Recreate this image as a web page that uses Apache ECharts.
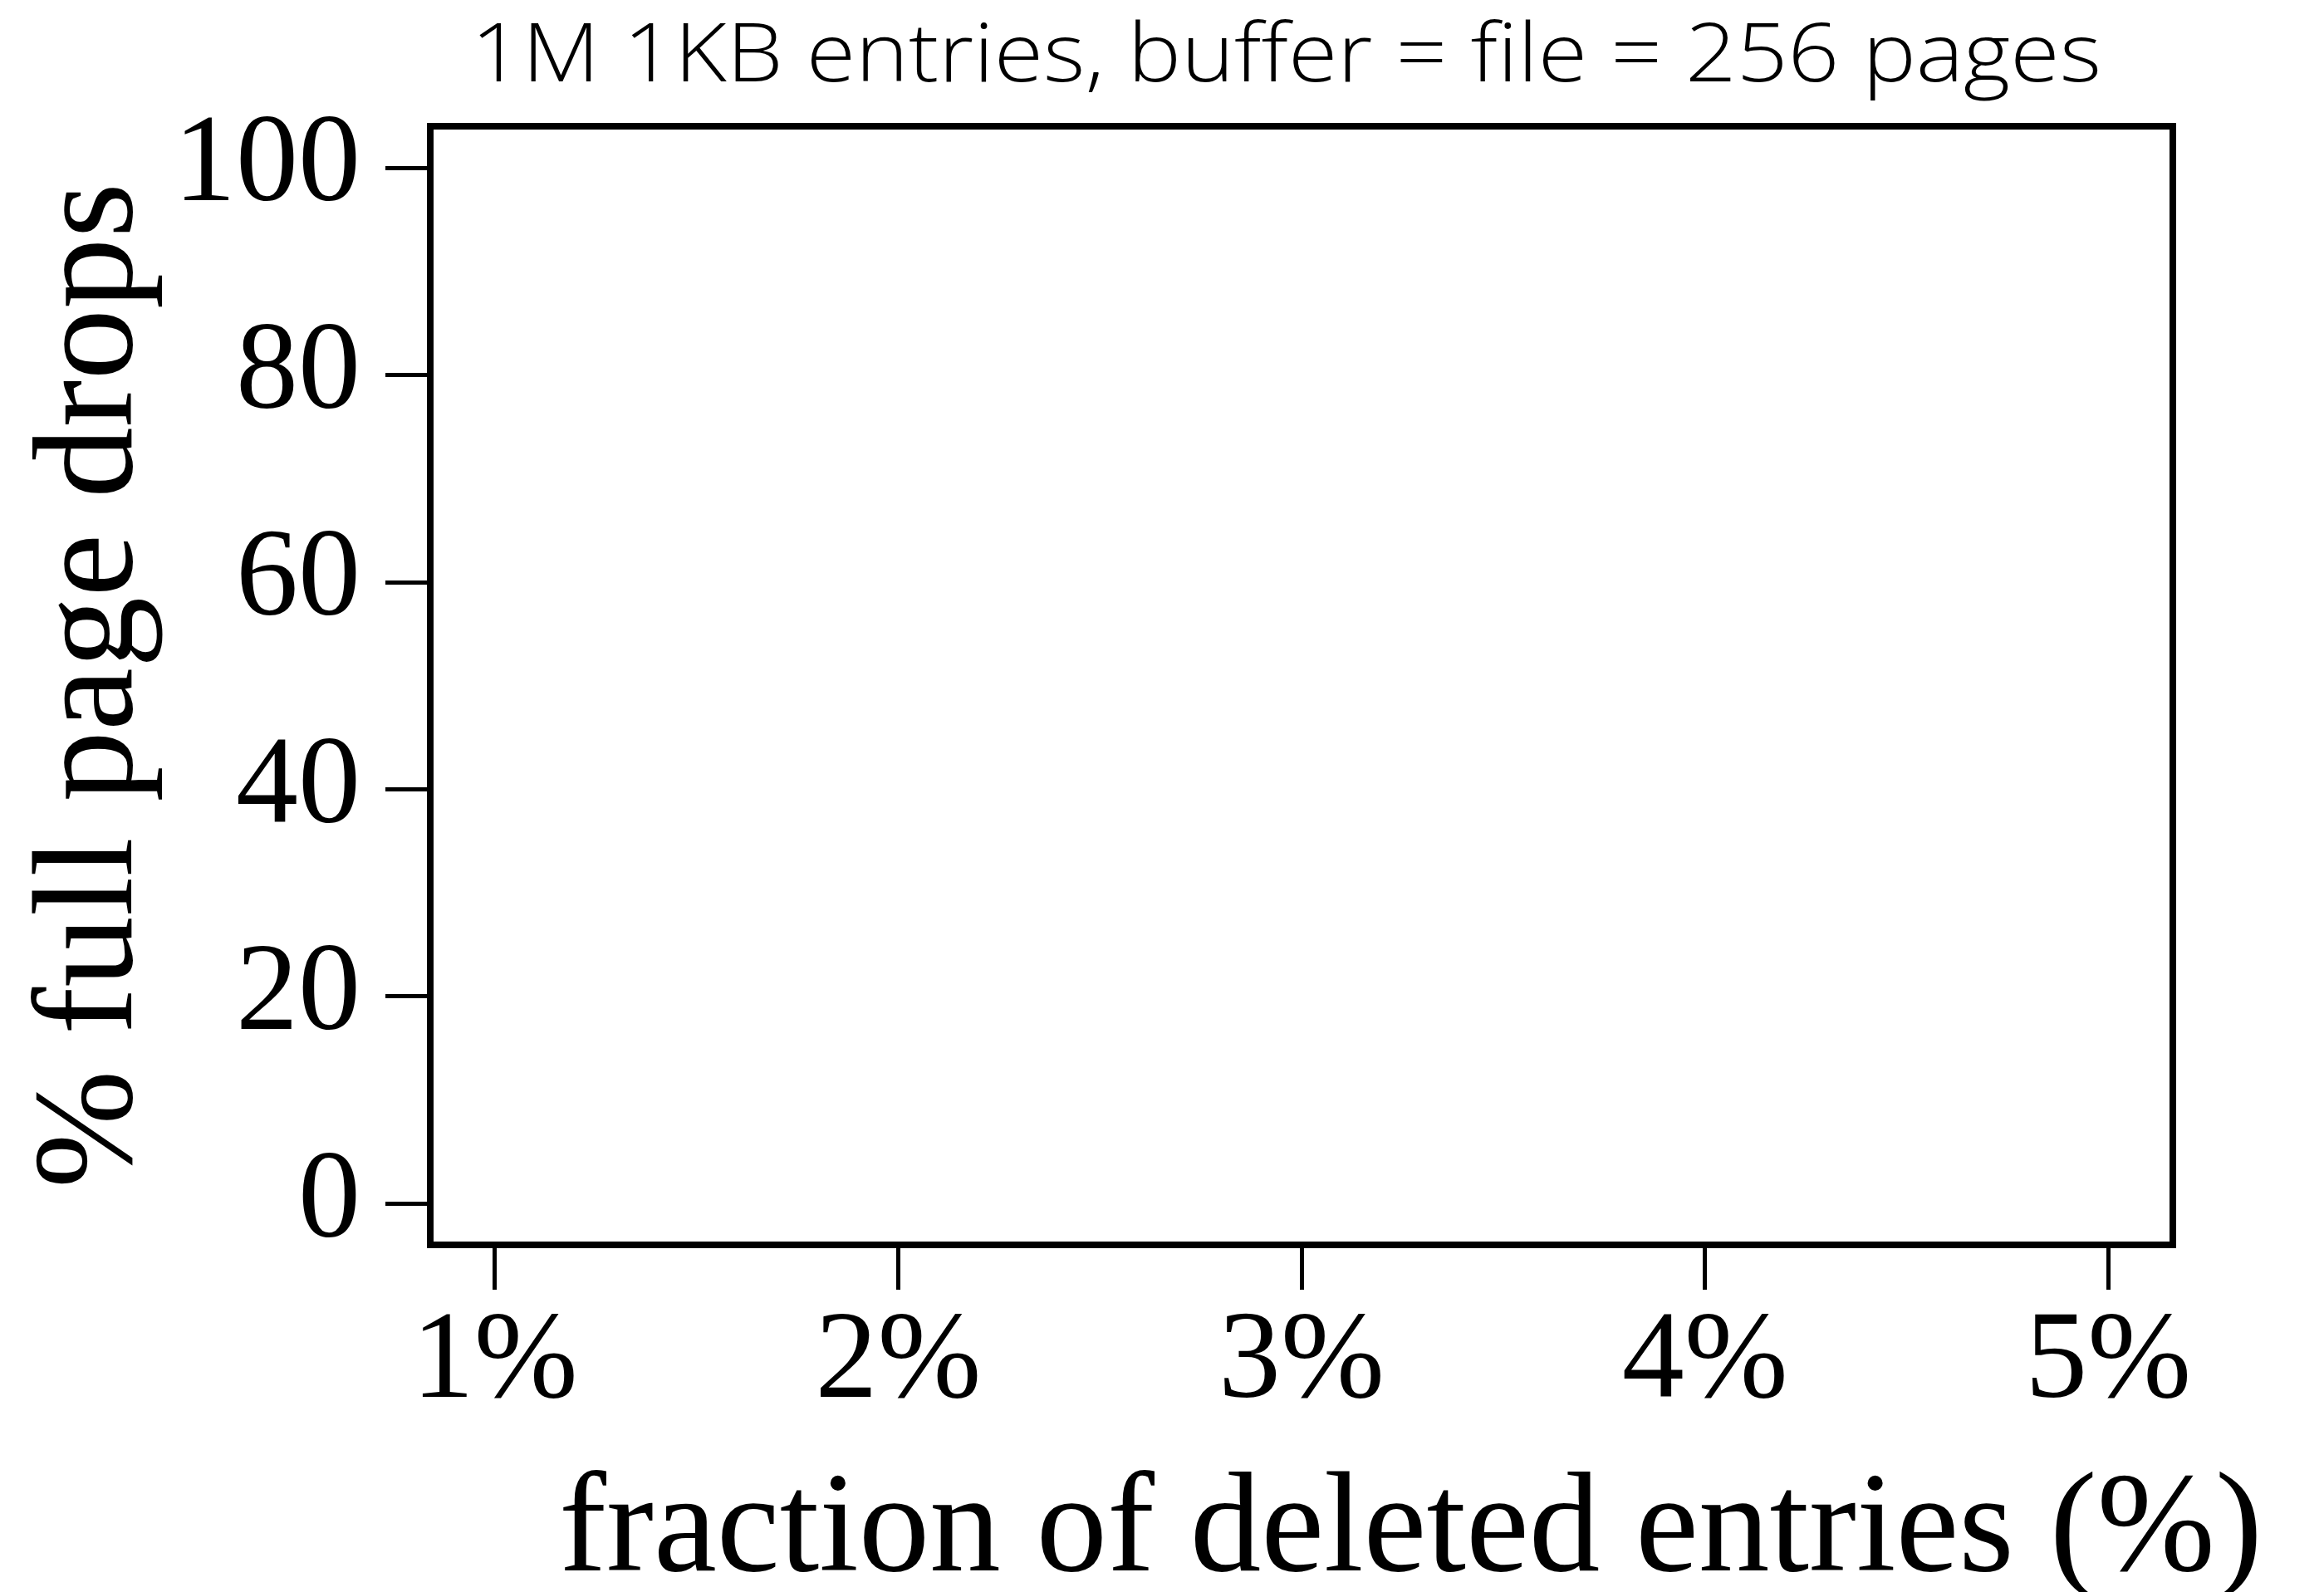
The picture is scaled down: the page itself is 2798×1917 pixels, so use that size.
<!DOCTYPE html>
<html>
<head>
<meta charset="utf-8">
<title>% full page drops</title>
<script src="https://cdn.jsdelivr.net/npm/echarts@6/dist/echarts.min.js"></script>
<style>
  html, body { margin: 0; padding: 0; background: #fff; }
  #chart { width: 2798px; height: 1917px; }
</style>
</head>
<body>
<div id="chart"></div>
<script>
// Axis ticks
const xTicks = [1, 2, 3, 4, 5];            // fraction of deleted entries (%)
const yTicks = [0, 20, 40, 60, 80, 100];   // % full page drops
// Axis extents (4% padding on each side of the tick range)
const xRange = [0.84, 5.16];
const yRange = [-4, 104];
// Measured points: none were recorded for this configuration
const dropPoints = [];

const serif = 'Liberation Serif, Times New Roman, serif';
const chartTitle = '1M 1KB entries, buffer = file = 256 pages';

const chart = echarts.init(document.getElementById('chart'), null, { renderer: 'canvas' });

chart.setOption({
  backgroundColor: '#ffffff',
  animation: false,
  title: [
    {
      text: 'fraction of deleted entries (%)',
      left: 668, top: 1756,
      textStyle: { fontFamily: serif, fontWeight: 'normal', fontSize: 171, color: '#000' }
    }
  ],
  // light, widely set heading above the plot
  graphic: [
    {
      type: 'text',
      x: 567, y: 22,
      scaleX: 1.115,
      style: {
        text: chartTitle,
        fontFamily: 'Open Sans, Liberation Sans, Helvetica, sans-serif',
        fontWeight: 300,
        fontSize: 97,
        fill: '#000',
        align: 'left',
        verticalAlign: 'top'
      }
    }
  ],
  grid: {
    left: 518, right: 182, top: 152, bottom: 418,
    show: true, borderColor: '#000', borderWidth: 8, backgroundColor: 'transparent'
  },
  xAxis: {
    type: 'value',
    min: xRange[0], max: xRange[1],
    axisLine: { show: false, onZero: false },
    splitLine: { show: false },
    axisTick: { show: true, inside: false, length: 54, customValues: xTicks, lineStyle: { color: '#000', width: 5 } },
    axisLabel: {
      show: true, customValues: xTicks, margin: 69,
      formatter: v => v + '%',
      fontFamily: serif, fontSize: 150, color: '#000'
    }
  },
  yAxis: {
    type: 'value',
    min: yRange[0], max: yRange[1],
    name: '% full page drops',
    nameLocation: 'middle',
    nameGap: 313,
    nameTextStyle: { fontFamily: serif, fontSize: 171, color: '#000' },
    axisLine: { show: false, onZero: false },
    splitLine: { show: false },
    axisTick: { show: true, inside: false, length: 54, customValues: yTicks, lineStyle: { color: '#000', width: 5 } },
    axisLabel: {
      show: true, customValues: yTicks, margin: 84,
      fontFamily: serif, fontSize: 150, color: '#000'
    }
  },
  series: [
    {
      type: 'line',
      data: dropPoints,
      lineStyle: { color: '#000', width: 5 },
      itemStyle: { color: '#000' },
      symbolSize: 20
    }
  ]
});
</script>
</body>
</html>
